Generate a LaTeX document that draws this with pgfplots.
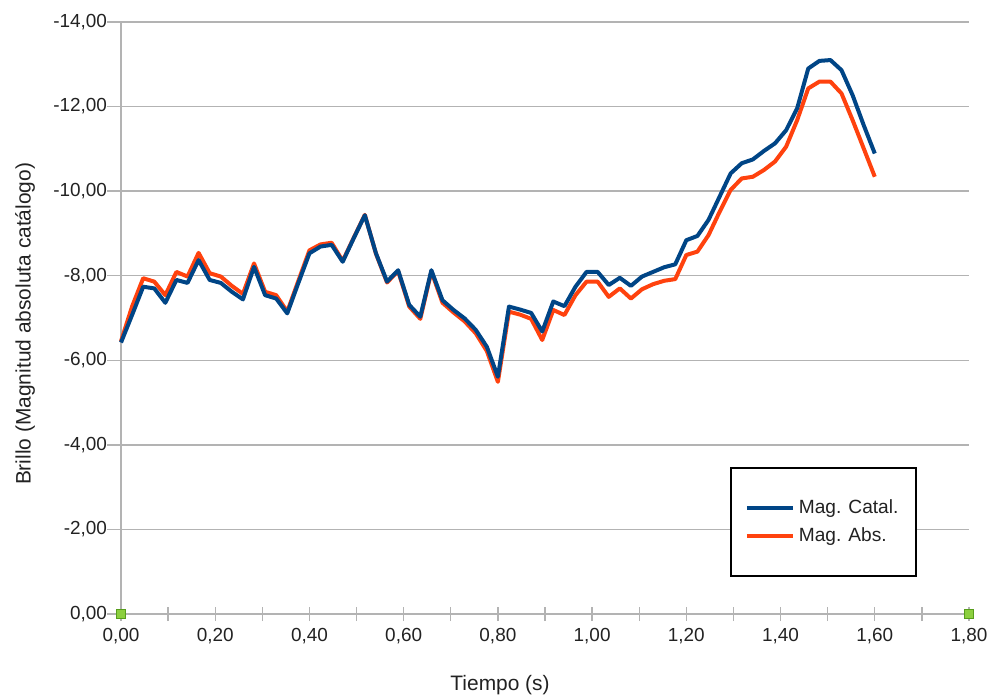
\documentclass[border=0pt]{standalone}
\usepackage{fontspec}
\setmainfont{Liberation Sans}
\usepackage{pgfplots}
\pgfplotsset{compat=1.18}
\definecolor{cblue}{HTML}{004586}
\definecolor{corange}{HTML}{FF420E}
\definecolor{cgreenfill}{HTML}{8CCF3F}
\definecolor{cgreenline}{HTML}{579D1C}
\definecolor{cgrid}{HTML}{B3B3B3}
\definecolor{ctext}{HTML}{222222}

\pgfplotstableread{
x y
0.0000 -6.42
0.0235 -7.07
0.0471 -7.74
0.0706 -7.70
0.0941 -7.36
0.1176 -7.90
0.1412 -7.83
0.1647 -8.37
0.1882 -7.90
0.2118 -7.83
0.2353 -7.62
0.2588 -7.44
0.2824 -8.21
0.3059 -7.54
0.3294 -7.46
0.3529 -7.11
0.3765 -7.83
0.4000 -8.53
0.4235 -8.69
0.4471 -8.73
0.4706 -8.33
0.4941 -8.89
0.5176 -9.43
0.5412 -8.53
0.5647 -7.86
0.5882 -8.13
0.6118 -7.31
0.6353 -7.03
0.6588 -8.13
0.6824 -7.42
0.7059 -7.19
0.7294 -6.99
0.7529 -6.72
0.7765 -6.32
0.8000 -5.61
0.8235 -7.27
0.8471 -7.20
0.8706 -7.12
0.8941 -6.68
0.9176 -7.39
0.9412 -7.28
0.9647 -7.74
0.9882 -8.09
1.0118 -8.09
1.0353 -7.78
1.0588 -7.95
1.0824 -7.76
1.1059 -7.98
1.1294 -8.09
1.1529 -8.20
1.1765 -8.27
1.2000 -8.84
1.2235 -8.94
1.2471 -9.32
1.2706 -9.87
1.2941 -10.42
1.3176 -10.66
1.3412 -10.75
1.3647 -10.95
1.3882 -11.13
1.4118 -11.44
1.4353 -11.96
1.4588 -12.90
1.4824 -13.08
1.5059 -13.10
1.5294 -12.86
1.5529 -12.27
1.5765 -11.56
1.6000 -10.89
}\catal

\pgfplotstableread{
x y
0.0000 -6.45
0.0235 -7.27
0.0471 -7.94
0.0706 -7.86
0.0941 -7.54
0.1176 -8.09
0.1412 -7.98
0.1647 -8.54
0.1882 -8.06
0.2118 -7.98
0.2353 -7.76
0.2588 -7.57
0.2824 -8.29
0.3059 -7.62
0.3294 -7.54
0.3529 -7.15
0.3765 -7.88
0.4000 -8.60
0.4235 -8.74
0.4471 -8.78
0.4706 -8.35
0.4941 -8.90
0.5176 -9.44
0.5412 -8.52
0.5647 -7.84
0.5882 -8.11
0.6118 -7.27
0.6353 -6.98
0.6588 -8.10
0.6824 -7.36
0.7059 -7.13
0.7294 -6.92
0.7529 -6.64
0.7765 -6.22
0.8000 -5.49
0.8235 -7.15
0.8471 -7.08
0.8706 -6.98
0.8941 -6.48
0.9176 -7.19
0.9412 -7.07
0.9647 -7.54
0.9882 -7.86
1.0118 -7.86
1.0353 -7.50
1.0588 -7.70
1.0824 -7.46
1.1059 -7.68
1.1294 -7.80
1.1529 -7.88
1.1765 -7.92
1.2000 -8.49
1.2235 -8.57
1.2471 -8.96
1.2706 -9.51
1.2941 -10.03
1.3176 -10.30
1.3412 -10.34
1.3647 -10.50
1.3882 -10.70
1.4118 -11.05
1.4353 -11.68
1.4588 -12.43
1.4824 -12.59
1.5059 -12.59
1.5294 -12.31
1.5529 -11.68
1.5765 -11.01
1.6000 -10.34
}\absol

\begin{document}
\begin{tikzpicture}
\useasboundingbox (-60.5bp,-41.5bp) rectangle (435.5bp,307bp);
\begin{axis}[
  at={(0,0)}, anchor=south west,
  scale only axis, width=424bp, height=296bp,
  xmin=0, xmax=1.8, ymin=-14, ymax=0, y dir=reverse,
  clip=false,
  axis x line=bottom, axis y line=left,
  axis line style={cgrid, line width=0.7bp, -},
  xtick={0,0.2,0.4,0.6,0.8,1.0,1.2,1.4,1.6,1.8},
  minor xtick={0.1,0.3,0.5,0.7,0.9,1.1,1.3,1.5,1.7},
  ytick={-14,-12,-10,-8,-6,-4,-2,0},
  ymajorgrids,
  grid style={cgrid, line width=0.7bp},
  major tick style={cgrid, line width=0.7bp},
  minor tick style={cgrid, line width=0.7bp},
  major tick length=7bp, minor tick length=7bp,
  tick align=center,
  y tick style={xshift=-3.5bp},
  /pgf/number format/.cd, fixed, fixed zerofill, precision=2, use comma, assume math mode=true,
  /pgfplots/.cd,
  ticklabel style={font=\fontsize{9.5}{11}\selectfont, text=ctext},
  xlabel={Tiempo (s)},
  ylabel={Brillo (Magnitud absoluta catálogo)},
  label style={font=\fontsize{10.5}{12}\selectfont, text=ctext},
  xlabel style={at={(axis description cs:0.447,-0.1195)}, anchor=center},
  ylabel style={at={(axis description cs:-0.1132,0.49)}, anchor=center},
  reverse legend,
  legend style={at={(0.718,0.249)}, anchor=north west, draw=black, line width=1bp,
    fill=white, font=\fontsize{9.6}{11}\selectfont, text=ctext,
    inner xsep=7bp, inner ysep=14bp, row sep=1.5bp,
    cells={anchor=west}},
  legend image code/.code={\draw[#1, line width=2bp] (0bp,0bp) -- (23bp,0bp);},
]
\addplot[corange, line width=2bp, line join=round] table[x=x,y=y] {\absol};
\addlegendentry{Mag. Abs.}
\addplot[cblue, line width=2bp, line join=round] table[x=x,y=y] {\catal};
\addlegendentry{Mag. Catal.}
\addplot[only marks, mark=square*, mark size=2.2bp, mark options={fill=cgreenfill, draw=cgreenline, line width=0.5bp}, forget plot] coordinates {(0,0) (1.8,0)};
\end{axis}
\end{tikzpicture}
\end{document}
